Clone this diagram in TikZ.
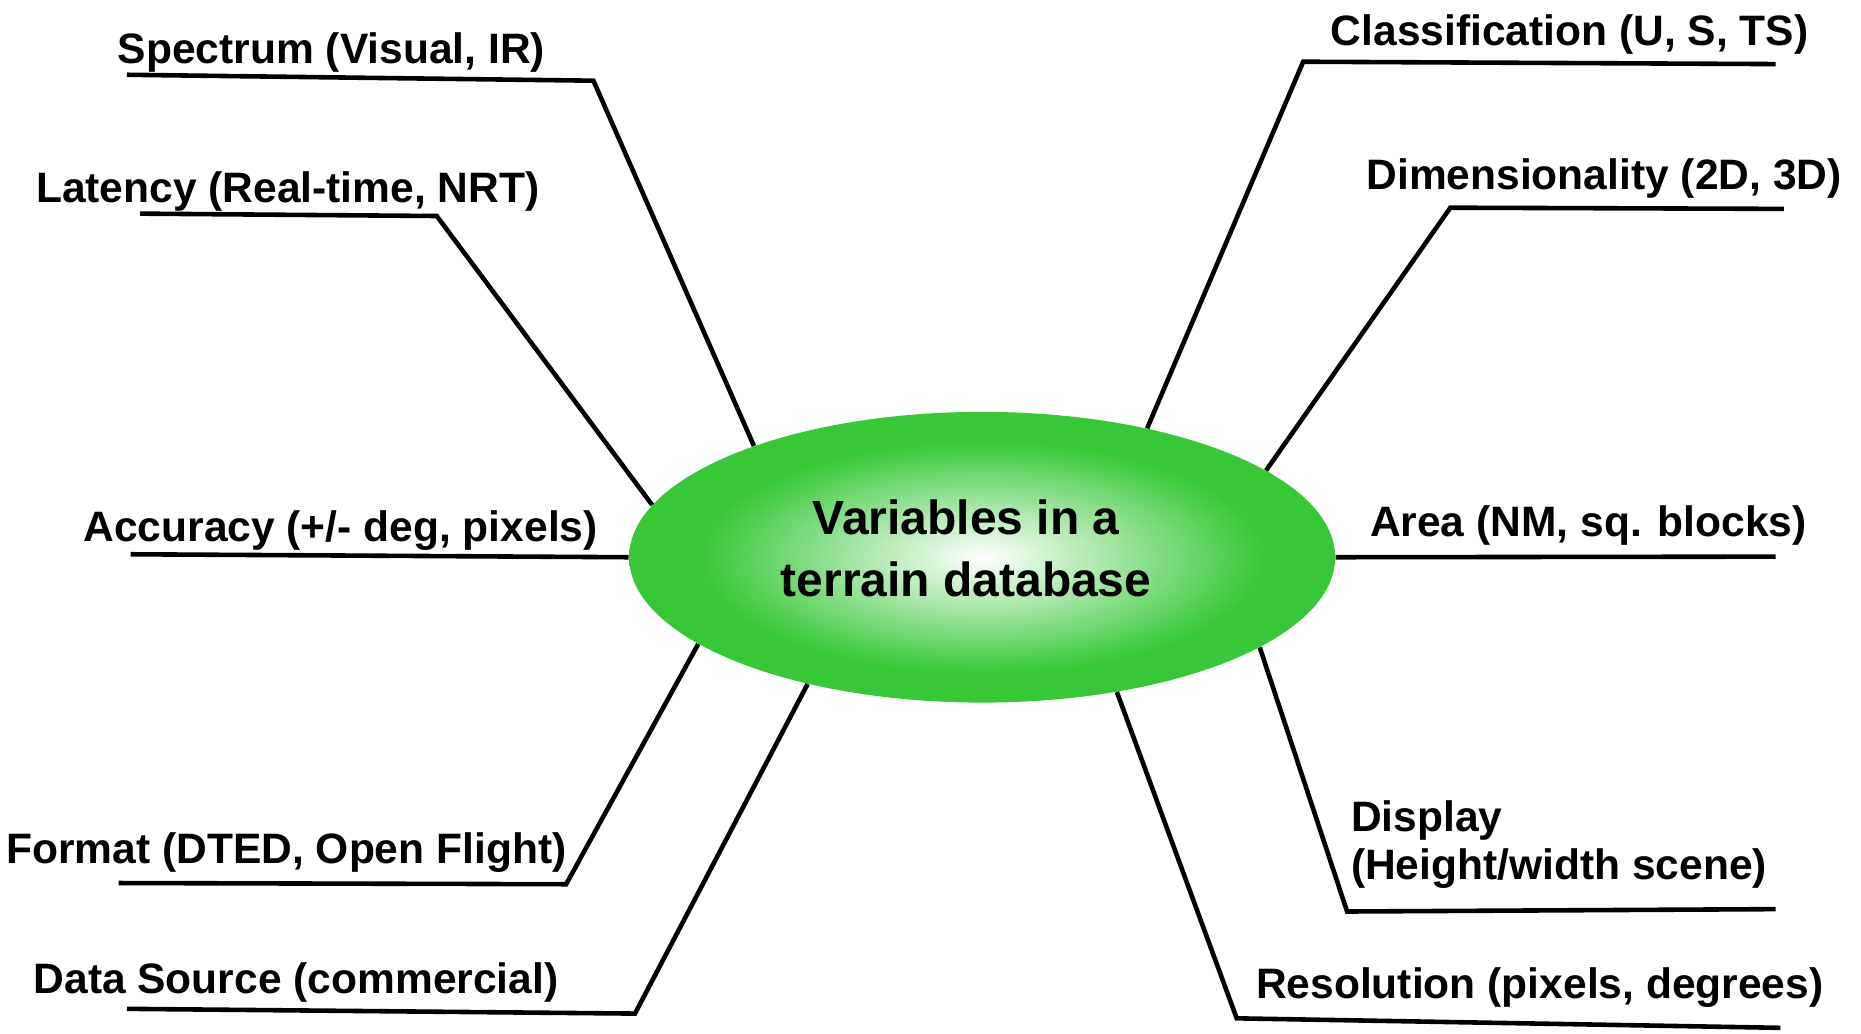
\documentclass[tikz,border=0pt]{standalone}
\usepackage{fontspec}
\setmainfont{Liberation Sans}
\usetikzlibrary{shapes.geometric}

\definecolor{hubgreen}{RGB}{55,200,55}
\pgfdeclareradialshading{hubglow}{\pgfpoint{0bp}{0bp}}{color(0bp)=(white); color(20bp)=(hubgreen); color(50bp)=(hubgreen)}

\tikzset{
    spoke/.style={line width=2.2pt, line join=miter},
    var/.style={font=\bfseries\fontsize{20.4}{23.3}\selectfont, inner sep=0pt, anchor=west},
    hub/.style={ellipse, shading=hubglow, minimum width=11.9cm, minimum height=4.9cm, inner sep=0pt}
}

\begin{document}
\begin{tikzpicture}[x=0.02cm, y=-0.02cm]
    \useasboundingbox (0,0) rectangle (1568,871);
    % Hub
    \node[hub] (hub) at (827.5,469.5) {};
    \node[font=\bfseries\fontsize{23}{30}\selectfont, align=center, inner sep=0pt] (title) at (814,462) {Variables in a\\terrain database};
    % Left side
    \node[var] (spec) at (99,44) {Spectrum (Visual, IR)};
    \coordinate (spec0) at (107,63); \coordinate (spec1) at (500,68);
    \draw[spoke] (spec0) -- (spec1) -- (hub.154.6);
    \node[var] (lat) at (30,161) {Latency (Real-time, NRT)};
    \coordinate (lat0) at (118,180); \coordinate (lat1) at (368,182);
    \draw[spoke] (lat0) -- (lat1) -- (hub.171.5);
    \node[var] (acc) at (70,447) {Accuracy (+/- deg, pixels)};
    \coordinate (acc0) at (110,467);
    \draw[spoke] (acc0) -- (hub.180);
    \node[var] (fmt) at (5,718) {Format (DTED, Open Flight)};
    \coordinate (fmt0) at (100,744); \coordinate (fmt1) at (477,745);
    \draw[spoke] (fmt0) -- (fmt1) -- (hub.197.6);
    \node[var] (src) at (28,828) {Data Source (commercial)};
    \coordinate (src0) at (107,850); \coordinate (src1) at (535,854);
    \draw[spoke] (src0) -- (src1) -- (hub.216.3);
    % Right side
    \node[var] (cls) at (1121,29) {Classification (U, S, TS)};
    \coordinate (cls0) at (1496,54); \coordinate (cls1) at (1098,52);
    \draw[spoke] (cls0) -- (cls1) -- (hub.38.3);
    \node[var] (dim) at (1151,150) {Dimensionality (2D, 3D)};
    \coordinate (dim0) at (1503,176); \coordinate (dim1) at (1222,175);
    \draw[spoke] (dim0) -- (dim1) -- (hub.17.3);
    \node[var] (area) at (1154,443) {Area (NM, sq. blocks)};
    \coordinate (area0) at (1496,469);
    \draw[spoke] (area0) -- (hub.0);
    \node[var, anchor=north west, align=left] (disp) at (1138,674) {Display\\(Height/width scene)};
    \coordinate (disp0) at (1496,766); \coordinate (disp1) at (1135,768);
    \draw[spoke] (disp0) -- (disp1) -- (hub.-18.4);
    \node[var] (res) at (1058,832) {Resolution (pixels, degrees)};
    \coordinate (res0) at (1500,866); \coordinate (res1) at (1042,858);
    \draw[spoke] (res0) -- (res1) -- (hub.-45.8);
\end{tikzpicture}
\end{document}
